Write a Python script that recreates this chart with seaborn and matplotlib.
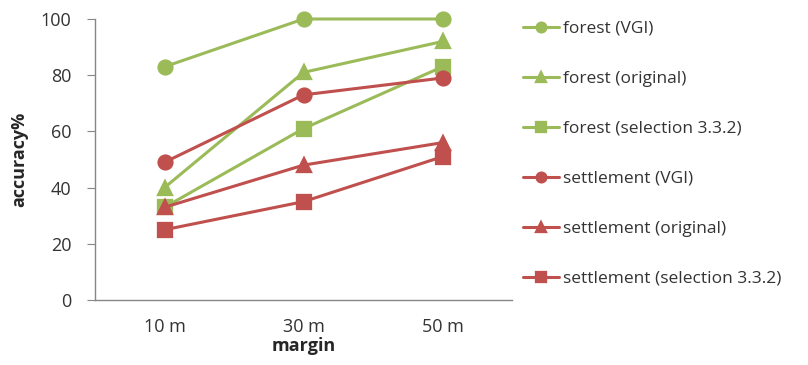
import seaborn as sns
import numpy as np
import pandas as pd
import matplotlib.pyplot as plt

# Chart data
margins = ['10 m', '30 m', '50 m']
series_names = ['forest (VGI)', 'forest (original)', 'forest (selection 3.3.2)',
                'settlement (VGI)', 'settlement (original)', 'settlement (selection 3.3.2)']
forest_vgi = [83, 100, 100]
forest_original = [40, 81, 92]
forest_selection = [33, 61, 83]
settlement_vgi = [49, 73, 79]
settlement_original = [33, 48, 56]
settlement_selection = [25, 35, 51]
y_ticks = [0, 20, 40, 60, 80, 100]

green = '#9BBB59'
red = '#C0504D'
axis_grey = '#868686'

# Build a long table for seaborn:
values = [forest_vgi, forest_original, forest_selection,
          settlement_vgi, settlement_original, settlement_selection]
rows = []
for name, vals in zip(series_names, values):
    for m, v in zip(margins, vals):
        rows.append({'margin': m, 'accuracy': v, 'series': name})
df = pd.DataFrame(rows)

sns.set_style('white')
plt.rcParams['font.family'] = ['Open Sans', 'DejaVu Sans']

fig = plt.figure(figsize=(8.08, 3.65), dpi=100)
ax = fig.add_axes([95 / 808, 1 - 300 / 365, (512 - 95) / 808, (300 - 19) / 365])

palette = {n: (green if n.startswith('forest') else red) for n in series_names}
sns.pointplot(data=df, x='margin', y='accuracy', hue='series', hue_order=series_names,
              palette=palette, markers=['o', '^', 's', 'o', '^', 's'], linestyles='-',
              errorbar=None, markersize=10, linewidth=2.2, ax=ax)

# Keep the markers at 100 from being cut off:
for line in ax.lines:
    line.set_clip_on(False)

# Axes styling:
ax.set_ylim(0, 100)
ax.set_xlim(-0.5, 2.5)
ax.set_yticks(y_ticks)
for side in ['top', 'right']:
    ax.spines[side].set_visible(False)
for side in ['left', 'bottom']:
    ax.spines[side].set_color(axis_grey)
    ax.spines[side].set_linewidth(1)
ax.tick_params(axis='y', length=6, color=axis_grey, direction='out', pad=11,
               labelsize=13, labelcolor='#333333', left=True)
ax.tick_params(axis='x', length=0, pad=13, labelsize=13, labelcolor='#333333')
ax.set_xlabel('margin', fontsize=13, fontweight='bold', labelpad=1)
ax.set_ylabel('accuracy%', fontsize=13, fontweight='bold', labelpad=9)
ax.grid(False)

# Legend on the right with wide spacing:
handles, labels = ax.get_legend_handles_labels()
ax.legend(handles, labels, loc='upper left', bbox_to_anchor=(514 / 808, 1 - 12 / 365),
          bbox_transform=fig.transFigure, frameon=False, fontsize=12.5,
          labelspacing=1.95, handlelength=2.1, handletextpad=0.25, borderpad=0,
          markerscale=0.7, labelcolor='#333333')

fig.savefig('out.png', dpi=100)
